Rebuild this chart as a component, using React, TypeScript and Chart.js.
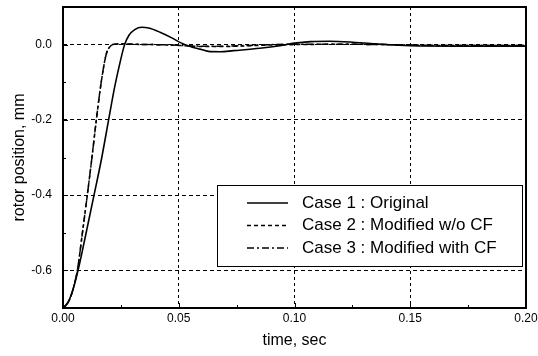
import { useEffect, useRef } from "react";
import { Chart, registerables } from "chart.js";

Chart.register(...registerables);

// ---- axis ticks ----
const xTicks = [0, 0.05, 0.1, 0.15, 0.2];
const yTicks = [-0.6, -0.4, -0.2, 0.0];
const xMinorTicks = [0.025, 0.075, 0.125, 0.175];
const yMinorTicks = [-0.5, -0.3, -0.1];

// ---- series ----
const seriesLabels = [
  "Case 1 : Original",
  "Case 2 : Modified w/o CF",
  "Case 3 : Modified with CF",
];

const case1Time = [
  0, 0.002, 0.0036, 0.0065, 0.01, 0.0134, 0.0165, 0.0197, 0.0223, 0.0245, 0.0266, 0.0285, 0.031,
  0.034, 0.037, 0.0419, 0.047, 0.0505, 0.055, 0.0592, 0.0635, 0.068, 0.0736, 0.085, 0.0937, 0.1,
  0.107, 0.115, 0.124, 0.135, 0.15, 0.17, 0.2,
];
const case1Value = [
  -0.7, -0.686, -0.665, -0.6, -0.5, -0.4, -0.308, -0.2, -0.113, -0.051, 0.0, 0.025, 0.04, 0.046,
  0.044, 0.033, 0.018, 0.006, -0.005, -0.012, -0.0186, -0.019, -0.016, -0.0098, -0.003, 0.004,
  0.008, 0.009, 0.007, 0.002, -0.003, -0.004, -0.004,
];

const case2Time = [
  0, 0.002, 0.0036, 0.0062, 0.0084, 0.0105, 0.0125, 0.0144, 0.0165, 0.0187, 0.0205, 0.022, 0.025,
  0.03, 0.04, 0.05, 0.06, 0.07, 0.08, 0.09, 0.1, 0.12, 0.14, 0.16, 0.2,
];
const case2Value = [
  -0.7, -0.688, -0.665, -0.6, -0.5, -0.4, -0.3, -0.2, -0.1, -0.025, -0.004, 0.001, 0.002, 0.001,
  0.0, -0.002, -0.005, -0.005, -0.003, -0.001, 0.0, 0.001, 0.0, -0.002, -0.002,
];

const case3Time = [
  0, 0.002, 0.0036, 0.0062, 0.0084, 0.0105, 0.0125, 0.0144, 0.0165, 0.0187, 0.0205, 0.022, 0.025,
  0.03, 0.04, 0.05, 0.06, 0.07, 0.08, 0.09, 0.1, 0.12, 0.14, 0.16, 0.2,
];
const case3Value = [
  -0.7, -0.688, -0.665, -0.6, -0.5, -0.4, -0.3, -0.2, -0.1, -0.025, -0.004, 0.001, 0.002, 0.001,
  0.0, -0.002, -0.004, -0.004, -0.002, 0.0, 0.001, 0.001, 0.0, -0.002, -0.002,
];

const FONT = "'Liberation Sans', Arial, Helvetica, sans-serif";

const toPoints = (t: number[], v: number[]) => t.map((x, i) => ({ x, y: v[i] }));

const zeroPadding = (axis: any) => {
  axis.paddingTop = 0;
  axis.paddingBottom = 0;
  axis.paddingLeft = 0;
  axis.paddingRight = 0;
};

const framePlugin = {
  id: "frameAndTicks",
  afterDatasetsDraw(chart: any) {
    const { ctx, chartArea } = chart;
    // legend inside plot
    const left = chartArea.left + 154;
    const top = chartArea.top + 178;
    const w = 305;
    const h = 81;
    ctx.save();
    ctx.fillStyle = "#fff";
    ctx.fillRect(left, top, w, h);
    ctx.strokeStyle = "#000";
    ctx.lineWidth = 1;
    ctx.setLineDash([]);
    ctx.strokeRect(left + 0.5, top + 0.5, w, h);
    ctx.font = `17px ${FONT}`;
    ctx.textBaseline = "middle";
    ctx.fillStyle = "#000";
    chart.data.datasets.forEach((ds: any, i: number) => {
      const y = top + 18 + i * 22.5;
      ctx.beginPath();
      ctx.setLineDash(ds.borderDash || []);
      ctx.lineWidth = ds.borderWidth;
      ctx.moveTo(left + 30, y);
      ctx.lineTo(left + 71, y);
      ctx.stroke();
      ctx.setLineDash([]);
      ctx.fillText(ds.label, left + 85, y);
    });
    ctx.restore();
  },
  afterDraw(chart: any) {
    const { ctx, chartArea, scales } = chart;
    ctx.save();
    ctx.strokeStyle = "#000";
    ctx.setLineDash([]);
    ctx.lineWidth = 2;
    ctx.strokeRect(
      chartArea.left,
      chartArea.top,
      chartArea.right - chartArea.left,
      chartArea.bottom - chartArea.top
    );
    ctx.lineWidth = 1;
    const x = scales.x;
    const y = scales.y;
    const tick = (vals: number[], len: number) => {
      vals.forEach((v) => {
        const px = Math.round(x.getPixelForValue(v)) + 0.5;
        ctx.beginPath();
        ctx.moveTo(px, chartArea.bottom);
        ctx.lineTo(px, chartArea.bottom - len);
        ctx.stroke();
      });
    };
    const ytick = (vals: number[], len: number) => {
      vals.forEach((v) => {
        const py = Math.round(y.getPixelForValue(v)) + 0.5;
        ctx.beginPath();
        ctx.moveTo(chartArea.left, py);
        ctx.lineTo(chartArea.left + len, py);
        ctx.stroke();
      });
    };
    tick(xTicks, 5);
    tick(xMinorTicks, 3);
    ytick(yTicks, 5);
    ytick(yMinorTicks, 3);
    ctx.restore();
  },
};

export default function App() {
  const canvasRef = useRef<HTMLCanvasElement | null>(null);

  useEffect(() => {
    if (!canvasRef.current) return;
    const chart = new Chart(canvasRef.current, {
      type: "line",
      data: {
        datasets: [
          {
            label: seriesLabels[0],
            data: toPoints(case1Time, case1Value),
            borderColor: "#000",
            borderWidth: 1.6,
            borderDash: [],
            pointRadius: 0,
            cubicInterpolationMode: "monotone",
          },
          {
            label: seriesLabels[1],
            data: toPoints(case2Time, case2Value),
            borderColor: "#000",
            borderWidth: 1.5,
            borderDash: [4, 3],
            pointRadius: 0,
            cubicInterpolationMode: "monotone",
          },
          {
            label: seriesLabels[2],
            data: toPoints(case3Time, case3Value),
            borderColor: "#000",
            borderWidth: 1.5,
            borderDash: [7, 3, 2, 3],
            pointRadius: 0,
            cubicInterpolationMode: "monotone",
          },
        ],
      },
      options: {
        responsive: false,
        animation: false,
        layout: { padding: { top: 7, right: 12, left: 0, bottom: 0 } },
        plugins: {
          legend: { display: false },
          tooltip: { enabled: false },
        },
        scales: {
          x: {
            type: "linear",
            min: 0,
            max: 0.2,
            afterBuildTicks: (axis: any) => {
              axis.ticks = xTicks.map((v) => ({ value: v }));
            },
            afterFit: (axis: any) => {
              axis.height = 48;
              zeroPadding(axis);
            },
            ticks: {
              color: "#000",
              font: { family: FONT, size: 12 },
              padding: 3,
              maxRotation: 0,
              callback: (v: any) => Number(v).toFixed(2),
            },
            grid: {
              color: "#000",
              lineWidth: 1,
              drawTicks: false,
            },
            border: { display: false, dash: [3, 3] },
            title: {
              display: true,
              text: "time, sec",
              color: "#000",
              font: { family: FONT, size: 16 },
              padding: { top: 0, bottom: 6 },
            },
          },
          y: {
            type: "linear",
            min: -0.7,
            max: 0.1,
            afterBuildTicks: (axis: any) => {
              axis.ticks = yTicks.map((v) => ({ value: v }));
            },
            afterFit: (axis: any) => {
              axis.width = 63;
              zeroPadding(axis);
            },
            ticks: {
              color: "#000",
              font: { family: FONT, size: 12 },
              padding: 11,
              callback: (v: any) => Number(v).toFixed(1),
            },
            grid: {
              color: "#000",
              lineWidth: 1,
              drawTicks: false,
            },
            border: { display: false, dash: [4, 3] },
            title: {
              display: true,
              text: "rotor position, mm",
              color: "#000",
              font: { family: FONT, size: 16 },
              padding: { top: 10, bottom: 0 },
            },
          },
        },
      },
      plugins: [framePlugin],
    } as any);
    return () => chart.destroy();
  }, []);

  return (
    <div style={{ position: "absolute", left: 0, top: 0, width: 538, height: 356, background: "#fff" }}>
      <canvas ref={canvasRef} width={538} height={356} />
    </div>
  );
}
